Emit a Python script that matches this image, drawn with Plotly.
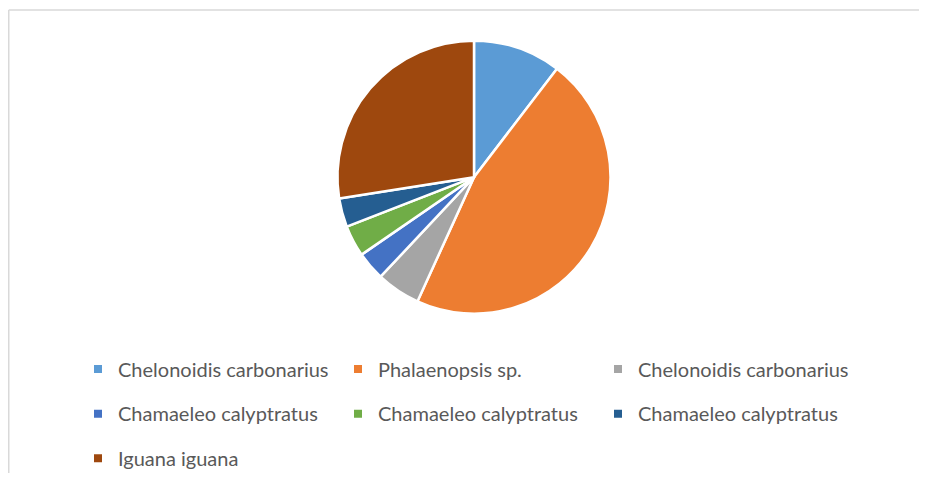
import plotly.graph_objects as go

# Species shown in the pie (Excel-style chart, repeated names kept as in source)
species = [
    "Chelonoidis carbonarius",
    "Phalaenopsis sp.",
    "Chelonoidis carbonarius",
    "Chamaeleo calyptratus",
    "Chamaeleo calyptratus",
    "Chamaeleo calyptratus",
    "Iguana iguana",
]
# share of each slice, percent
shares = [10.4, 46.4, 5.2, 3.4, 3.7, 3.4, 27.5]

slice_colors = ["#5B9BD5", "#ED7D31", "#A5A5A5", "#4472C4",
                "#70AD47", "#255E91", "#9E480E"]

# pie merges equal labels, so make repeats unique with zero-width spaces
seen = {}
labels = []
for name in species:
    n = seen.get(name, 0)
    labels.append(name + "\u200b" * n)
    seen[name] = n + 1

# page is 927x486 but the html body has an 8px margin
W, H = 911, 470
cx, cy, r = 466, 171, 138

fig = go.Figure(
    go.Pie(
        labels=labels,
        values=shares,
        sort=False,
        direction="clockwise",
        rotation=0,
        textinfo="none",
        hoverinfo="label+percent",
        showlegend=False,
        marker=dict(colors=slice_colors, line=dict(color="#FFFFFF", width=2.5)),
        domain=dict(
            x=[(cx - r) / W, (cx + r) / W],
            y=[(H - cy - r) / H, (H - cy + r) / H],
        ),
    )
)

# Excel lays the legend out as rows of three with wide line spacing,
# so each row gets its own legend holding square-marker entries
row_ids = ["legend", "legend2", "legend3"]
for i, (lab, col) in enumerate(zip(labels, slice_colors)):
    fig.add_trace(go.Scatter(
        x=[None], y=[None], mode="markers", name=lab,
        marker=dict(symbol="square", size=8, color=col),
        legend=row_ids[i // 3], hoverinfo="skip",
    ))

row_y = [365, 410, 455]
legend_style = dict(
    orientation="h",
    x=70 / W,
    xanchor="left",
    yanchor="middle",
    entrywidth=215,
    entrywidthmode="pixels",
    font=dict(family="Lato, Noto Sans, sans-serif", size=20, color="#595959"),
    bgcolor="rgba(0,0,0,0)",
    itemclick=False,
    itemdoubleclick=False,
)

border = "#D9D9D9"
fig.update_layout(
    width=W,
    height=H,
    margin=dict(l=0, r=0, t=0, b=0),
    paper_bgcolor="#FFFFFF",
    plot_bgcolor="#FFFFFF",
    font=dict(family="Lato, Noto Sans, sans-serif", color="#595959"),
    xaxis=dict(visible=False),
    yaxis=dict(visible=False),
    legend=dict(legend_style, y=1 - row_y[0] / H),
    legend2=dict(legend_style, y=1 - row_y[1] / H),
    legend3=dict(legend_style, y=1 - row_y[2] / H),
    shapes=[
        dict(type="line", xref="paper", yref="paper",
             x0=0.75 / W, x1=1, y0=1 - 2 / H, y1=1 - 2 / H,
             line=dict(color=border, width=1.5)),
        dict(type="line", xref="paper", yref="paper",
             x0=0.75 / W, x1=0.75 / W, y0=0, y1=1 - 2 / H,
             line=dict(color=border, width=1.5)),
    ],
)

fig.write_html("out.html")
